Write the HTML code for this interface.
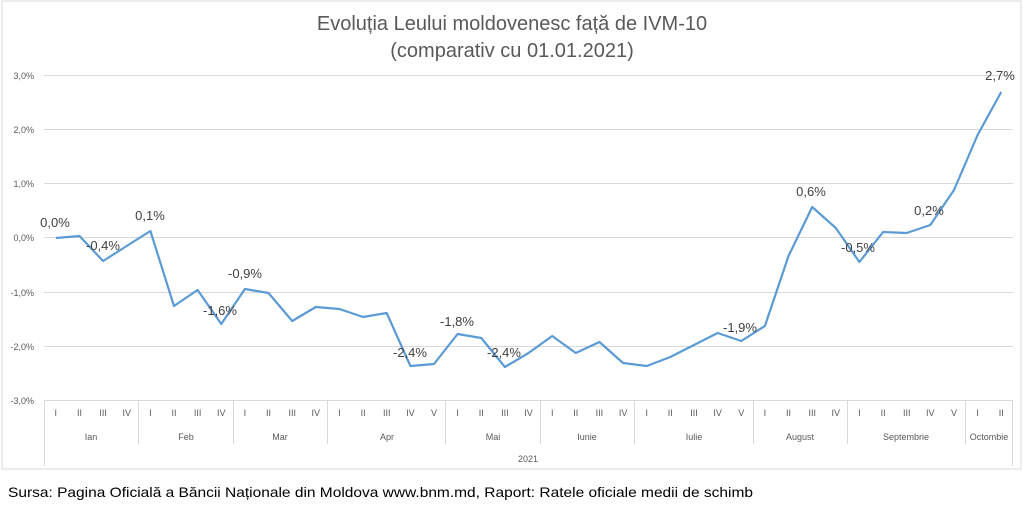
<!DOCTYPE html>
<html><head><meta charset="utf-8"><style>
html,body{margin:0;padding:0;background:#fff;}
svg{display:block;font-family:"Liberation Sans",sans-serif;}
</style></head><body>
<svg width="1023" height="517" xmlns="http://www.w3.org/2000/svg">
<rect x="2" y="1" width="1019" height="468" fill="#fff" stroke="#d9d9d9"/>
<text x="512" y="30" text-anchor="middle" font-size="20" fill="#595959">Evoluția Leului moldovenesc față de IVM-10</text>
<text x="512" y="57" text-anchor="middle" font-size="20" fill="#595959">(comparativ cu 01.01.2021)</text>
<g stroke="#d9d9d9" stroke-width="1">
<line x1="44" y1="75.5" x2="1013" y2="75.5"/>
<line x1="44" y1="129.5" x2="1013" y2="129.5"/>
<line x1="44" y1="183.5" x2="1013" y2="183.5"/>
<line x1="44" y1="237.5" x2="1013" y2="237.5"/>
<line x1="44" y1="292.5" x2="1013" y2="292.5"/>
<line x1="44" y1="346.5" x2="1013" y2="346.5"/>
<line x1="44" y1="400.5" x2="1013" y2="400.5"/>
<line x1="44.5" y1="400" x2="44.5" y2="466"/>
<line x1="1012.5" y1="400" x2="1012.5" y2="466"/>
<line x1="138.5" y1="400" x2="138.5" y2="444"/>
<line x1="233.5" y1="400" x2="233.5" y2="444"/>
<line x1="327.5" y1="400" x2="327.5" y2="444"/>
<line x1="445.5" y1="400" x2="445.5" y2="444"/>
<line x1="540.5" y1="400" x2="540.5" y2="444"/>
<line x1="634.5" y1="400" x2="634.5" y2="444"/>
<line x1="753.5" y1="400" x2="753.5" y2="444"/>
<line x1="847.5" y1="400" x2="847.5" y2="444"/>
<line x1="965.5" y1="400" x2="965.5" y2="444"/>
</g>
<g font-size="9" fill="#595959" text-anchor="end">
<text x="34" y="79">3,0%</text>
<text x="34" y="133">2,0%</text>
<text x="34" y="187">1,0%</text>
<text x="34" y="241">0,0%</text>
<text x="34" y="296">-1,0%</text>
<text x="34" y="350">-2,0%</text>
<text x="34" y="404">-3,0%</text>
</g>
<g font-size="9" fill="#595959" text-anchor="middle">
<text x="55.8" y="416">I</text><text x="79.5" y="416">II</text><text x="103.1" y="416">III</text><text x="126.7" y="416">IV</text>
<text x="150.4" y="416">I</text><text x="174" y="416">II</text><text x="197.6" y="416">III</text><text x="221.3" y="416">IV</text>
<text x="244.9" y="416">I</text><text x="268.5" y="416">II</text><text x="292.2" y="416">III</text><text x="315.8" y="416">IV</text>
<text x="339.4" y="416">I</text><text x="363.1" y="416">II</text><text x="386.7" y="416">III</text><text x="410.4" y="416">IV</text><text x="434" y="416">V</text>
<text x="457.6" y="416">I</text><text x="481.3" y="416">II</text><text x="504.9" y="416">III</text><text x="528.5" y="416">IV</text>
<text x="552.2" y="416">I</text><text x="575.8" y="416">II</text><text x="599.4" y="416">III</text><text x="623.1" y="416">IV</text>
<text x="646.7" y="416">I</text><text x="670.3" y="416">II</text><text x="694" y="416">III</text><text x="717.6" y="416">IV</text><text x="741.3" y="416">V</text>
<text x="764.9" y="416">I</text><text x="788.5" y="416">II</text><text x="812.2" y="416">III</text><text x="835.8" y="416">IV</text>
<text x="859.4" y="416">I</text><text x="883.1" y="416">II</text><text x="906.7" y="416">III</text><text x="930.3" y="416">IV</text><text x="954" y="416">V</text>
<text x="977.6" y="416">I</text><text x="1001.2" y="416">II</text>
<text x="91" y="440">Ian</text>
<text x="186" y="440">Feb</text>
<text x="280" y="440">Mar</text>
<text x="387" y="440">Apr</text>
<text x="493" y="440">Mai</text>
<text x="587" y="440">Iunie</text>
<text x="694" y="440">Iulie</text>
<text x="800" y="440">August</text>
<text x="906" y="440">Septembrie</text>
<text x="989" y="440">Octombie</text>
<text x="528" y="462">2021</text>
</g>
<polyline fill="none" stroke="#5b9bd5" stroke-width="2.2" stroke-linejoin="round" points="55.8,238 79.5,236 103.1,261 126.7,246 150.4,231 174,306 197.6,290 221.3,324 244.9,289 268.5,293 292.2,321 315.8,307 339.4,309 363.1,317 386.7,313 410.4,366 434,364 457.6,334 481.3,338 504.9,367 528.5,353 552.2,336 575.8,353 599.4,342 623.1,363 646.7,366 670.3,357 694,345 717.6,333 741.3,341 764.9,326 788.5,256 812.2,207 835.8,228 859.4,262 883.1,232 906.7,233 930.3,225 954,190 977.6,135 1001.2,92"/>
<g font-size="13" fill="#404040" text-anchor="middle">
<text x="55" y="227">0,0%</text>
<text x="103" y="250">-0,4%</text>
<text x="150" y="220">0,1%</text>
<text x="220" y="315">-1,6%</text>
<text x="245" y="278">-0,9%</text>
<text x="410" y="357">-2,4%</text>
<text x="457" y="326">-1,8%</text>
<text x="504" y="357">-2,4%</text>
<text x="740" y="332">-1,9%</text>
<text x="811" y="196">0,6%</text>
<text x="858" y="252">-0,5%</text>
<text x="929" y="215">0,2%</text>
<text x="1000" y="80">2,7%</text>
</g>
<text x="8" y="497" font-size="14" fill="#000" textLength="745" lengthAdjust="spacingAndGlyphs">Sursa: Pagina Oficială a Băncii Naționale din Moldova www.bnm.md, Raport: Ratele oficiale medii de schimb</text>
</svg>
</body></html>
